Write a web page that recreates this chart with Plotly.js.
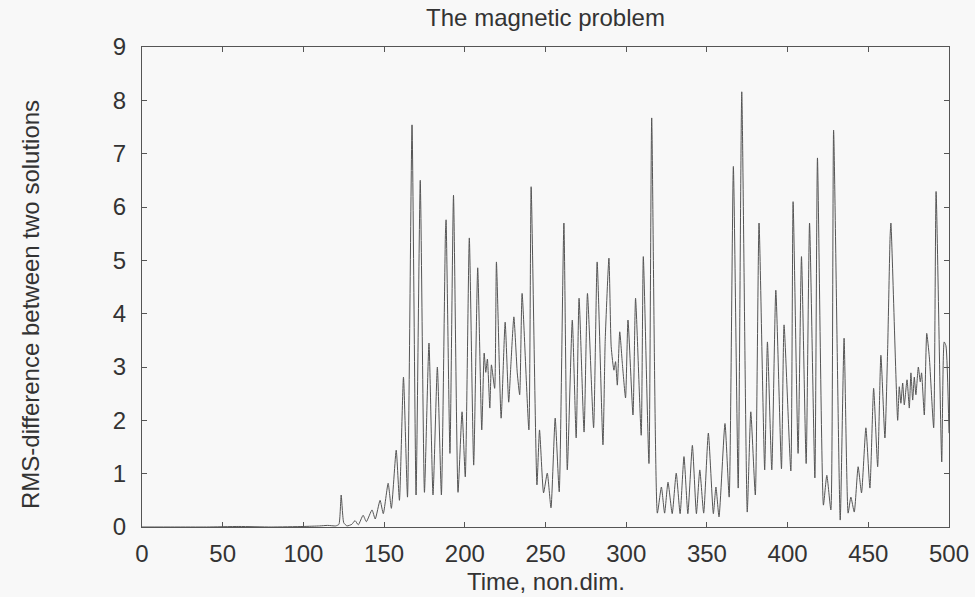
<!DOCTYPE html>
<html>
<head>
<meta charset="utf-8">
<script src="https://cdn.plot.ly/plotly-3.0.1.min.js"></script>
<style>
  html, body { margin: 0; padding: 0; background: #f8f8f8; }
  #chart { width: 975px; height: 597px; }
</style>
</head>
<body>
<div id="chart"></div>
<script>
// Time (non-dimensional) and RMS-difference values
const time = [
  0, 20, 40, 60, 80, 100, 110, 115, 120, 122, 123.4, 125, 127,
  130, 132, 134, 137, 139, 142.5, 144.5, 147.5, 149.5, 152.5, 154.5, 157.5, 159.5,
  162, 164.5, 167.3, 169.8, 172.4, 175, 177.8, 180.3, 183, 185.5, 188, 188.4, 190.8,
  193, 195.8, 198.3, 200.3, 202.8, 205.5, 208, 210.5, 212, 213, 214, 215.5, 216.5,
  218.5, 219.6, 222.5, 225, 227.2, 228.6, 230.4, 232.5, 234, 235.5, 239.7, 241.1,
  244.7, 246.3, 248.8, 251.1, 253.4, 256, 258.5, 261.4, 263.5, 266.6, 269, 270.8,
  273.9, 276, 279.8, 282, 285.6, 287, 289.3, 290.7, 292.4, 293.4, 294.5, 296,
  297.6, 299.6, 301.1, 304.2, 305.8, 309.3, 310.6, 314.1, 315.8, 319.3,
  321.8, 323.8, 325.9, 328.5, 331, 333.4, 335.8, 338.2, 341, 343.5, 345.6, 348,
  350.9, 354, 355.6, 357.5, 361.2, 363.8, 366.4, 369.4, 371.6, 375, 377.2, 380,
  382.3, 385.8, 387.5, 390.2, 392.7, 396.2, 397.8, 402, 403.4, 406.5, 408.6, 411.5,
  413.6, 416.9, 418.5, 422.2, 424.3, 426.8, 428.5, 432.6, 435, 437.5, 439.2, 441.3,
  443.7, 445.8, 448.5, 451, 453.3, 455.8, 457.8, 460.3, 462, 463.5, 464, 468.2,
  469.2, 470.2, 471.3, 472.3, 474, 475.4, 476.4, 477.5, 478.5, 479.5, 481, 482.2,
  483, 484.7, 486.2, 487.8, 490.5, 492, 495.5, 497, 498.1, 500
];
const rmsDiff = [
  0.0, 0.0, 0.0, 0.01, 0.0, 0.01, 0.02, 0.03, 0.02, 0.05, 0.6, 0.08, 0.02,
  0.05, 0.12, 0.04, 0.22, 0.1, 0.32, 0.15, 0.5, 0.25, 0.82, 0.35, 1.44, 0.5,
  2.81, 0.56, 7.54, 0.6, 6.5, 0.65, 3.45, 0.6, 3.0, 0.6, 5.5, 5.76, 1.38,
  6.22, 0.65, 2.16, 0.94, 5.42, 1.16, 4.86, 1.82, 3.26, 2.9, 3.15, 2.23, 3.04,
  2.6, 4.97, 2.04, 3.84, 2.34, 3.07, 3.94, 2.89, 2.48, 4.38, 1.82, 6.38,
  0.79, 1.82, 0.64, 1.01, 0.36, 2.04, 0.66, 5.7, 1.07, 3.88, 1.67, 4.29,
  1.78, 4.38, 1.86, 4.97, 1.54, 3.51, 5.04, 3.38, 2.94, 3.1, 2.66, 3.66,
  3.07, 2.42, 3.88, 2.1, 4.29, 1.72, 5.07, 1.19, 7.67, 0.26,
  0.75, 0.26, 0.84, 0.25, 1.01, 0.25, 1.32, 0.25, 1.53, 0.25, 1.07, 0.26,
  1.76, 0.25, 0.75, 0.19, 1.94, 0.56, 6.76, 0.73, 8.16, 0.28, 2.16, 0.6,
  5.7, 1.07, 3.47, 1.07, 4.44, 1.09, 3.79, 1.05, 6.1, 1.38, 5.07, 1.19,
  5.7, 0.92, 6.92, 0.41, 0.97, 0.32, 7.44, 0.13, 3.54, 0.26, 0.56, 0.28,
  1.13, 0.64, 1.86, 0.73, 2.6, 1.13, 3.22, 1.67, 3.35, 5.44, 5.7, 2.0,
  2.63, 2.32, 2.7, 2.29, 2.76, 2.23, 2.89, 2.38, 2.81, 2.48, 3.0, 2.72,
  2.89, 2.1, 3.63, 3.19, 1.86, 6.29, 1.22, 3.47, 3.4, 1.76
];
const xTicks = [0, 50, 100, 150, 200, 250, 300, 350, 400, 450, 500];
const yTicks = [0, 1, 2, 3, 4, 5, 6, 7, 8, 9];

const fontFam = '"Liberation Sans", Arial, Helvetica, sans-serif';

const trace = {
  x: time,
  y: rmsDiff,
  type: 'scatter',
  mode: 'lines',
  line: { color: '#555555', width: 1, shape: 'spline', smoothing: 0.5 },
  hoverinfo: 'x+y'
};

const axisCommon = {
  showgrid: false,
  zeroline: false,
  showline: true,
  linecolor: '#555',
  linewidth: 1,
  mirror: 'ticks',
  ticks: 'inside',
  ticklen: 5,
  tickcolor: '#555',
  tickfont: { family: fontFam, size: 24, color: '#333' }
};

const layout = {
  width: 975,
  height: 597,
  paper_bgcolor: '#f8f8f8',
  plot_bgcolor: '#f8f8f8',
  margin: { l: 142, r: 26, t: 47, b: 70 },
  showlegend: false,
  font: { family: fontFam, color: '#333' },
  title: {
    text: 'The magnetic problem',
    font: { family: fontFam, size: 24, color: '#333' },
    xref: 'paper', x: 0.5, xanchor: 'center',
    yref: 'container', y: 1 - 18 / 597, yanchor: 'middle'
  },
  xaxis: Object.assign({}, axisCommon, {
    range: [0, 500],
    tickvals: xTicks,
    ticktext: xTicks.map(String),
    ticklabelstandoff: 5
  }),
  yaxis: Object.assign({}, axisCommon, {
    range: [0, 9],
    tickvals: yTicks,
    ticktext: yTicks.map(String),
    ticklabelstandoff: 10
  }),
  annotations: [{
    text: 'RMS-difference between two solutions',
    textangle: -90,
    xref: 'paper', yref: 'paper',
    x: (30 - 142) / 807, y: (527 - 305) / 480,
    xanchor: 'center', yanchor: 'middle',
    showarrow: false,
    font: { family: fontFam, size: 24, color: '#333' }
  }, {
    text: 'Time, non.dim.',
    xref: 'paper', yref: 'paper',
    x: 0.5, y: (527 - 581) / 480,
    xanchor: 'center', yanchor: 'middle',
    showarrow: false,
    font: { family: fontFam, size: 24, color: '#333' }
  }]
};

Plotly.newPlot('chart', [trace], layout, { displayModeBar: false, staticPlot: true });
</script>
</body>
</html>
